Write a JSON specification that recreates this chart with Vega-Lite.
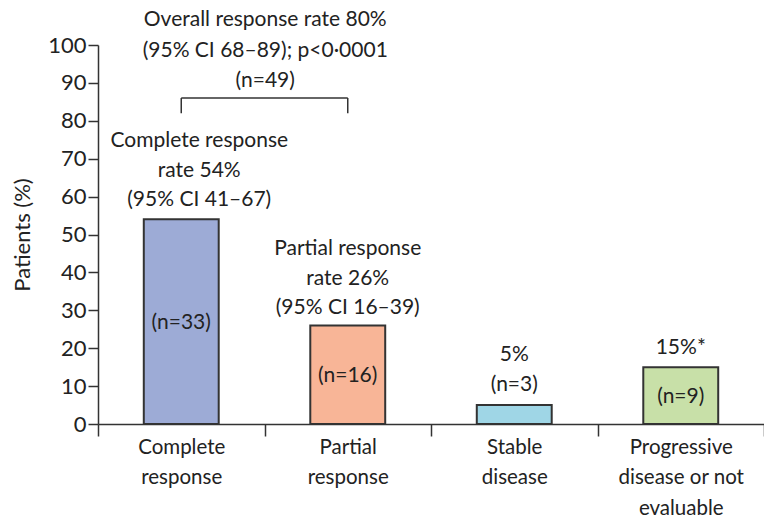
{
  "$schema": "https://vega.github.io/schema/vega-lite/v6.json",
  "autosize": "none",
  "width": 666,
  "height": 379,
  "padding": {"left": 98, "top": 45, "right": 0, "bottom": 94},
  "background": "white",
  "config": {
    "view": {"stroke": null},
    "font": "Lato",
    "text": {"font": "Lato", "fontSize": 21, "color": "#222222"}
  },
  "resolve": {"scale": {"y": "independent"}},
  "data": {
    "values": [
      {"cat": "Complete response", "value": 54, "top": "Complete response|rate 54%|(95% CI 41–67)", "inside": "(n=33)"},
      {"cat": "Partial response", "value": 26, "top": "Partial response|rate 26%|(95% CI 16–39)", "inside": "(n=16)"},
      {"cat": "Stable disease", "value": 5, "top": "5%|(n=3)", "inside": ""},
      {"cat": "Progressive disease or not evaluable", "value": 15, "top": "15%*", "inside": "(n=9)"}
    ]
  },
  "encoding": {
    "x": {
      "field": "cat", "type": "nominal", "sort": null,
      "scale": {"paddingInner": 0, "paddingOuter": 0},
      "axis": {
        "title": null, "labelAngle": 0, "tickBand": "extent", "tickSize": 12,
        "tickColor": "#333333", "tickWidth": 1.5, "domainColor": "#333333", "domainWidth": 1.5,
        "labelFont": "Lato", "labelFontSize": 20.5, "labelColor": "#222222", "labelPadding": 1, "labelLineHeight": 30.5,
        "labelExpr": "!isString(datum.value) ? '' : datum.value == 'Progressive disease or not evaluable' ? ['Progressive', 'disease or not', 'evaluable'] : split(datum.value, ' ')"
      }
    }
  },
  "layer": [
    {
      "mark": {"type": "bar", "width": {"band": 0.45}, "stroke": "#333333", "strokeWidth": 2},
      "encoding": {
        "y": {
          "field": "value", "type": "quantitative",
          "scale": {"domain": [0, 100], "nice": false},
          "axis": {
            "title": "Patients (%)", "values": [0, 10, 20, 30, 40, 50, 60, 70, 80, 90, 100],
            "labelOverlap": false,
            "grid": false, "tickSize": 10, "tickColor": "#333333", "tickWidth": 1.5,
            "domainColor": "#333333", "domainWidth": 1.5,
            "labelFont": "Lato", "labelFontSize": 22, "labelColor": "#222222", "labelPadding": 2,
            "titleFont": "Lato", "titleFontSize": 22, "titleFontWeight": "normal", "titleColor": "#222222", "titlePadding": 13
          }
        },
        "color": {
          "field": "cat", "type": "nominal", "sort": null, "legend": null,
          "scale": {
            "domain": ["Complete response", "Partial response", "Stable disease", "Progressive disease or not evaluable"],
            "range": ["#9dabd6", "#f8b597", "#9fd6e6", "#c8e0a8"]
          }
        }
      }
    },
    {
      "transform": [{"filter": "datum.cat == 'Complete response'"}],
      "mark": {"type": "text", "baseline": "middle", "dy": -78, "dx": 18, "lineBreak": "|", "lineHeight": 29.5},
      "encoding": {
        "y": {"field": "value", "type": "quantitative", "scale": {"domain": [0, 100], "nice": false}, "axis": null},
        "text": {"field": "top"}
      }
    },
    {
      "transform": [{"filter": "datum.cat == 'Partial response'"}],
      "mark": {"type": "text", "baseline": "middle", "dy": -76, "lineBreak": "|", "lineHeight": 29.5},
      "encoding": {
        "y": {"field": "value", "type": "quantitative", "scale": {"domain": [0, 100], "nice": false}, "axis": null},
        "text": {"field": "top"}
      }
    },
    {
      "transform": [{"filter": "datum.cat == 'Stable disease'"}],
      "mark": {"type": "text", "baseline": "middle", "dy": -50, "lineBreak": "|", "lineHeight": 30},
      "encoding": {
        "y": {"field": "value", "type": "quantitative", "scale": {"domain": [0, 100], "nice": false}, "axis": null},
        "text": {"field": "top"}
      }
    },
    {
      "transform": [{"filter": "datum.cat == 'Progressive disease or not evaluable'"}],
      "mark": {"type": "text", "baseline": "middle", "dy": -19},
      "encoding": {
        "y": {"field": "value", "type": "quantitative", "scale": {"domain": [0, 100], "nice": false}, "axis": null},
        "text": {"field": "top"}
      }
    },
    {
      "transform": [{"filter": "datum.inside != ''"}],
      "mark": {"type": "text", "baseline": "middle", "dy": 1},
      "encoding": {
        "y": {"field": "value", "type": "quantitative", "scale": {"domain": [0, 200], "nice": false}, "axis": null},
        "text": {"field": "inside"}
      }
    },
    {
      "data": {"values": [{}]},
      "mark": {"type": "rule", "color": "#333333", "strokeWidth": 1.5},
      "encoding": {
        "x": {"datum": "Complete response", "bandPosition": 0.5},
        "x2": {"datum": "Partial response", "bandPosition": 0.5},
        "y": {"datum": 86, "type": "quantitative", "scale": {"domain": [0, 100], "nice": false}, "axis": null}
      }
    },
    {
      "data": {"values": [{}]},
      "mark": {"type": "rule", "color": "#333333", "strokeWidth": 1.5},
      "encoding": {
        "x": {"datum": "Complete response", "bandPosition": 0.5},
        "y": {"datum": 86, "type": "quantitative", "scale": {"domain": [0, 100], "nice": false}, "axis": null},
        "y2": {"datum": 82}
      }
    },
    {
      "data": {"values": [{}]},
      "mark": {"type": "rule", "color": "#333333", "strokeWidth": 1.5},
      "encoding": {
        "x": {"datum": "Partial response", "bandPosition": 0.5},
        "y": {"datum": 86, "type": "quantitative", "scale": {"domain": [0, 100], "nice": false}, "axis": null},
        "y2": {"datum": 82}
      }
    },
    {
      "data": {"values": [{}]},
      "mark": {"type": "text", "baseline": "middle", "dy": -25, "dx": 84, "lineBreak": "|", "lineHeight": 30.5},
      "encoding": {
        "x": {"datum": "Complete response"},
        "y": {"datum": 100, "type": "quantitative", "scale": {"domain": [0, 100], "nice": false}, "axis": null},
        "text": {"value": "Overall response rate 80%|(95% CI 68–89); p<0·0001|(n=49)"}
      }
    }
  ]
}
